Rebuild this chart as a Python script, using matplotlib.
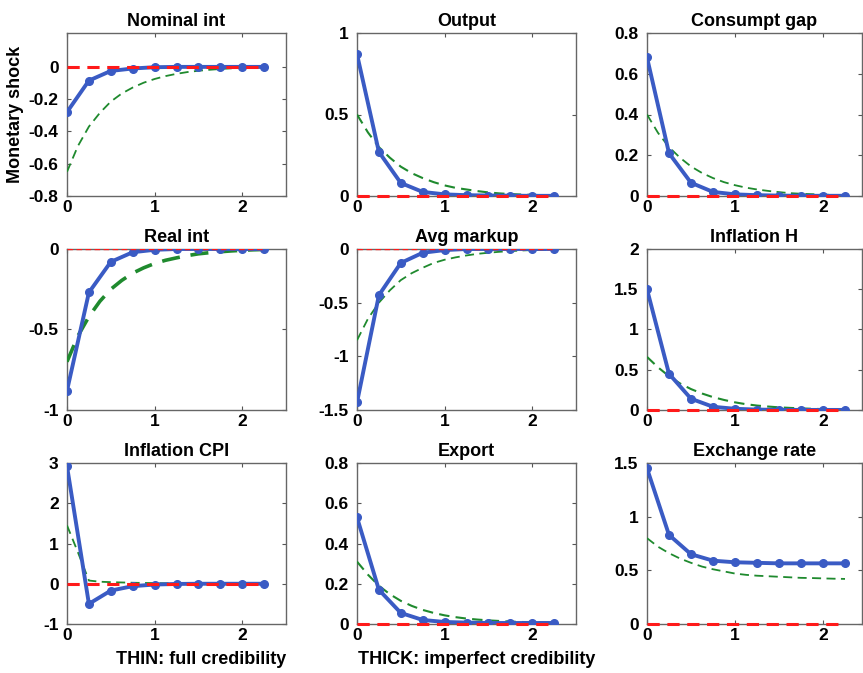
import numpy as np
import matplotlib
matplotlib.use("Agg")
import matplotlib.pyplot as plt

plt.rcParams['font.family'] = ['Liberation Sans', 'DejaVu Sans']
plt.rcParams['font.weight'] = 'bold'

# Blue (thick, imperfect credibility) at quarterly steps
x_blue = [0, 0.25, 0.5, 0.75, 1.0, 1.25, 1.5, 1.75, 2.0, 2.25]
# Green (thin, full credibility) at finer steps
x_green = [0, 0.125, 0.25, 0.375, 0.5, 0.625, 0.75, 0.875, 1.0, 1.125,
           1.25, 1.375, 1.5, 1.625, 1.75, 1.875, 2.0, 2.125, 2.25]

titles = ["Nominal int", "Output", "Consumpt gap",
          "Real int", "Avg markup", "Inflation H",
          "Inflation CPI", "Export", "Exchange rate"]

nominal_blue = [-0.28, -0.085, -0.025, -0.01, -0.002, 0, 0, 0, 0, 0]
nominal_green = [-0.65, -0.49, -0.37, -0.285, -0.215, -0.165, -0.128, -0.098, -0.075,
                 -0.057, -0.043, -0.032, -0.024, -0.018, -0.013, -0.009, -0.006, -0.004, -0.003]

output_blue = [0.87, 0.27, 0.08, 0.025, 0.01, 0.005, 0.003, 0.002, 0.001, 0.001]
output_green = [0.50, 0.39, 0.30, 0.235, 0.18, 0.14, 0.11, 0.085, 0.065,
                0.05, 0.04, 0.03, 0.022, 0.016, 0.012, 0.009, 0.007, 0.005, 0.004]

consump_blue = [0.68, 0.21, 0.065, 0.02, 0.008, 0.004, 0.002, 0.001, 0.001, 0.001]
consump_green = [0.40, 0.31, 0.24, 0.188, 0.145, 0.113, 0.088, 0.068, 0.053,
                 0.041, 0.032, 0.025, 0.019, 0.014, 0.011, 0.009, 0.007, 0.005, 0.004]

realint_blue = [-0.88, -0.27, -0.08, -0.02, -0.005, 0, 0, 0, 0, 0]
realint_green = [-0.70, -0.54, -0.42, -0.325, -0.25, -0.195, -0.15, -0.117, -0.09,
                 -0.07, -0.055, -0.041, -0.03, -0.023, -0.017, -0.012, -0.008, -0.005, -0.003]

markup_blue = [-1.43, -0.43, -0.13, -0.035, -0.01, 0, 0, 0, 0, 0]
markup_green = [-0.85, -0.65, -0.50, -0.385, -0.29, -0.225, -0.175, -0.13, -0.10,
                -0.078, -0.06, -0.045, -0.035, -0.026, -0.02, -0.014, -0.01, -0.007, -0.005]

inflh_blue = [1.50, 0.45, 0.14, 0.04, 0.015, 0.005, 0.002, 0.001, 0.001, 0.001]
inflh_green = [0.66, 0.53, 0.42, 0.33, 0.26, 0.205, 0.16, 0.125, 0.095,
               0.072, 0.055, 0.043, 0.033, 0.026, 0.02, 0.015, 0.011, 0.008, 0.006]

cpi_blue = [2.92, -0.50, -0.17, -0.06, -0.02, -0.005, 0, 0, 0, 0]
cpi_green = [1.45, 0.78, 0.08, 0.05, 0.04, 0.032, 0.025, 0.02, 0.016,
             0.012, 0.01, 0.008, 0.006, 0.005, 0.004, 0.003, 0.002, 0.002, 0.001]

export_blue = [0.53, 0.17, 0.055, 0.02, 0.01, 0.007, 0.005, 0.005, 0.005, 0.005]
export_green = [0.31, 0.245, 0.19, 0.148, 0.115, 0.09, 0.07, 0.055, 0.043,
                0.034, 0.027, 0.022, 0.018, 0.015, 0.012, 0.01, 0.009, 0.008, 0.008]

exch_blue = [1.45, 0.83, 0.65, 0.59, 0.575, 0.57, 0.565, 0.565, 0.565, 0.565]
exch_green = [0.80, 0.72, 0.66, 0.61, 0.57, 0.535, 0.51, 0.49, 0.47,
              0.458, 0.45, 0.445, 0.44, 0.435, 0.43, 0.428, 0.425, 0.422, 0.42]

blue_series = [nominal_blue, output_blue, consump_blue, realint_blue, markup_blue,
               inflh_blue, cpi_blue, export_blue, exch_blue]
green_series = [nominal_green, output_green, consump_green, realint_green, markup_green,
                inflh_green, cpi_green, export_green, exch_green]

ylims = [(-0.8, 0.21), (0, 1), (0, 0.8), (-1, 0), (-1.5, 0), (0, 2), (-1, 3), (0, 0.8), (0, 1.5)]
yticks = [[-0.8, -0.6, -0.4, -0.2, 0], [0, 0.5, 1], [0, 0.2, 0.4, 0.6, 0.8],
          [-1, -0.5, 0], [-1.5, -1, -0.5, 0], [0, 0.5, 1, 1.5, 2],
          [-1, 0, 1, 2, 3], [0, 0.2, 0.4, 0.6, 0.8], [0, 0.5, 1, 1.5]]
ytick_labels = [["-0.8", "-0.6", "-0.4", "-0.2", "0"], ["0", "0.5", "1"],
                ["0", "0.2", "0.4", "0.6", "0.8"], ["-1", "-0.5", "0"],
                ["-1.5", "-1", "-0.5", "0"], ["0", "0.5", "1", "1.5", "2"],
                ["-1", "0", "1", "2", "3"], ["0", "0.2", "0.4", "0.6", "0.8"],
                ["0", "0.5", "1", "1.5"]]
green_lw = [1.3, 1.5, 1.3, 2.6, 1.3, 1.5, 1.3, 1.5, 1.3]
red_lw = [2.2, 2.2, 2.2, 1.0, 1.0, 2.2, 2.2, 2.2, 2.2]

W, H = 863, 673
fig = plt.figure(figsize=(W / 100, H / 100), dpi=100)

col_left = [67, 357, 647]
col_width = [219, 219, 215]
row_top = [33, 249, 463]
row_height = [163, 161, 161]

blue = '#3a5bc4'
green = '#1f8a2e'
red = '#ff1a1a'

for i in range(9):
    r, c = divmod(i, 3)
    left = col_left[c] / W
    bottom = 1 - (row_top[r] + row_height[r]) / H
    ax = fig.add_axes([left, bottom, col_width[c] / W, row_height[r] / H])
    ax.plot(x_green, green_series[i], color=green, lw=green_lw[i], ls=(0, (5, 3)), zorder=3)
    ax.plot(x_blue, blue_series[i], color=blue, lw=2.8, marker='o', ms=5.5,
            markerfacecolor=blue, markeredgecolor=blue, zorder=4)
    ax.plot([x_blue[0], x_blue[-1]], [0, 0], color=red, lw=red_lw[i], ls=(0, (4, 2.5)),
            zorder=5, clip_on=(red_lw[i] < 2))
    ax.set_xlim(0, 2.5 if c < 2 else 215 / 88)
    ax.set_ylim(*ylims[i])
    ax.set_xticks([0, 1, 2])
    ax.set_xticklabels(["0", "1", "2"])
    ax.set_yticks(yticks[i])
    ax.set_yticklabels(ytick_labels[i])
    ax.tick_params(direction='in', top=True, right=True, length=3, width=0.8,
                   labelsize=12.5, pad=3, colors='#555555', labelcolor='black')
    ax.tick_params(axis='y', pad=6)
    for lab in ax.get_xticklabels() + ax.get_yticklabels():
        lab.set_fontweight('bold')
    for sp in ax.spines.values():
        sp.set_color('#666666')
        sp.set_linewidth(1.0)
    ax.set_title(titles[i], fontsize=13, fontweight='bold', pad=5)
    if i == 0:
        ax.set_ylabel("Monetary shock", fontsize=13, fontweight='bold', labelpad=3)

fig.text(201 / W, 1 - 660 / H, "THIN: full credibility", ha='center', va='center',
         fontsize=13, fontweight='bold')
fig.text(477 / W, 1 - 660 / H, "THICK: imperfect credibility", ha='center', va='center',
         fontsize=13, fontweight='bold')

fig.savefig("out.png", dpi=100)
